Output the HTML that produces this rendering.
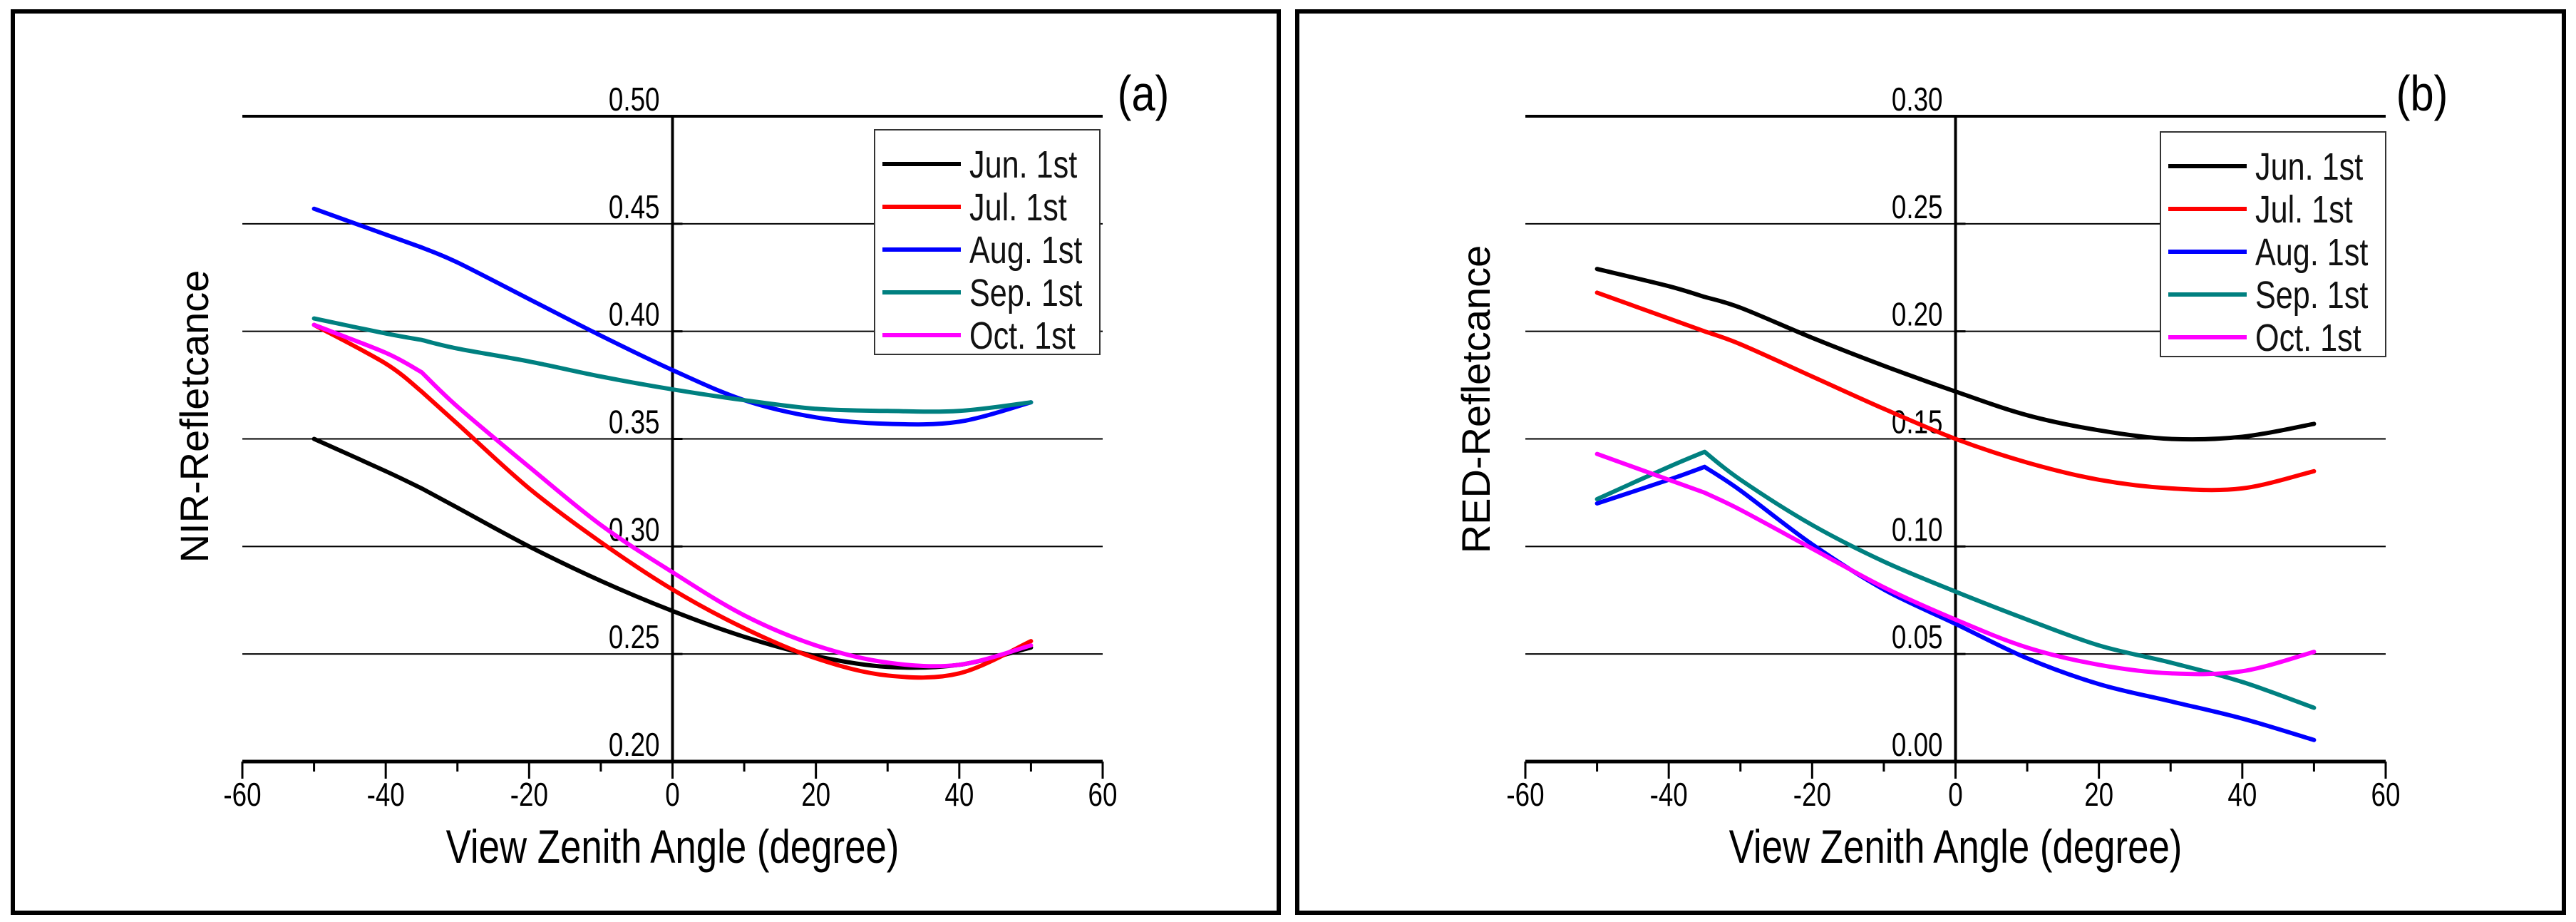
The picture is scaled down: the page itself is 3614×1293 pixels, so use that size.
<!DOCTYPE html>
<html><head><meta charset="utf-8"><style>
html,body{margin:0;padding:0;background:#fff}
svg{display:block}
text{font-family:"Liberation Sans",sans-serif}
</style></head><body>
<svg id="c" width="3614" height="1293" viewBox="0 0 3614 1293" xmlns="http://www.w3.org/2000/svg">
<rect x="18" y="16" width="1776" height="1264" fill="none" stroke="#000" stroke-width="6"/>
<rect x="1820" y="16" width="1777" height="1264" fill="none" stroke="#000" stroke-width="6"/>
</svg>
<script>
const xs = [-50,-40,-35,-30,-20,-10,0,10,20,30,40,50];
const seriesNames = ["Jun. 1st","Jul. 1st","Aug. 1st","Sep. 1st","Oct. 1st"];
const colors = ["#000000","#ff0000","#0000ff","#008080","#ff00ff"];
const nirJun = [0.350,0.335,0.327,0.318,0.300,0.284,0.270,0.258,0.249,0.244,0.245,0.253];
const nirJul = [0.403,0.385,0.372,0.357,0.327,0.302,0.280,0.262,0.248,0.240,0.241,0.256];
const nirAug = [0.457,0.445,0.439,0.432,0.415,0.398,0.382,0.368,0.360,0.357,0.358,0.367];
const nirSep = [0.406,0.399,0.396,0.392,0.386,0.379,0.373,0.368,0.364,0.363,0.363,0.367];
const nirOct = [0.403,0.390,0.381,0.365,0.337,0.310,0.288,0.268,0.254,0.246,0.245,0.254];
const redJun = [0.229,0.221,0.216,0.211,0.197,0.184,0.172,0.161,0.154,0.150,0.151,0.157];
const redJul = [0.218,0.206,0.200,0.194,0.179,0.164,0.150,0.139,0.131,0.127,0.127,0.135];
const redAug = [0.120,0.131,0.137,0.126,0.101,0.080,0.064,0.048,0.036,0.028,0.020,0.010];
const redSep = [0.122,0.137,0.144,0.131,0.110,0.093,0.079,0.066,0.054,0.046,0.037,0.025];
const redOct = [0.143,0.131,0.125,0.117,0.099,0.081,0.066,0.053,0.045,0.041,0.042,0.051];
const nirTicks = ["0.20","0.25","0.30","0.35","0.40","0.45","0.50"];
const redTicks = ["0.00","0.05","0.10","0.15","0.20","0.25","0.30"];
const xTicks = [-60,-40,-20,0,20,40,60];

const NS="http://www.w3.org/2000/svg";
const svg=document.getElementById('c');
function mk(tag,attrs,parent,txt){const e=document.createElementNS(NS,tag);for(const k in attrs)e.setAttribute(k,attrs[k]);if(txt!==undefined)e.textContent=txt;(parent||svg).appendChild(e);return e;}
function smoothSeg(P,start){
  let d=start?'M'+P[0][0].toFixed(1)+','+P[0][1].toFixed(1):'';
  for(let i=0;i<P.length-1;i++){
    const p0=P[Math.max(0,i-1)],p1=P[i],p2=P[i+1],p3=P[Math.min(P.length-1,i+2)];
    const t=0.5/3;
    const c1=[p1[0]+(p2[0]-p0[0])*t,p1[1]+(p2[1]-p0[1])*t];
    const c2=[p2[0]-(p3[0]-p1[0])*t,p2[1]-(p3[1]-p1[1])*t];
    d+=` C${c1[0].toFixed(1)},${c1[1].toFixed(1)} ${c2[0].toFixed(1)},${c2[1].toFixed(1)} ${p2[0].toFixed(1)},${p2[1].toFixed(1)}`;
  }
  return d;
}
function smooth(P){
  const k=xs.indexOf(-35);
  return smoothSeg(P.slice(0,k+1),true)+smoothSeg(P.slice(k),false);
}

function panel(opt){
  const g=mk('g',{});
  
  
  const x0=opt.x0,x1=opt.x1,yTop=163,yBot=1068;
  const ymin=parseFloat(opt.ticks[0]),ymax=parseFloat(opt.ticks[opt.ticks.length-1]);
  const sx=v=>x0+(v+60)/120*(x1-x0);
  const sy=v=>yBot-(v-ymin)/(ymax-ymin)*(yBot-yTop);
  opt.ticks.forEach((t,i)=>{
    const v=parseFloat(t),y=sy(v);
    const l=mk('line',{x1:x0,x2:x1,y1:y,y2:y,stroke:'#000','stroke-width':(i==0)?5:(i==opt.ticks.length-1?4:2)},g);
    
    
    const tk=mk('line',{x1:sx(0),x2:sx(0)+14,y1:y,y2:y,stroke:'#000','stroke-width':3},g);
    
    
    const tx=mk('text',{x:sx(0)-18,y:y-8,'text-anchor':'end','font-size':46,transform:`translate(${sx(0)-18},0) scale(0.8,1) translate(${-(sx(0)-18)},0)`},g,t);
    
    
  });
  const ya=mk('line',{x1:sx(0),x2:sx(0),y1:yTop,y2:yBot,stroke:'#000','stroke-width':4},g);
  
  
  for(let v=-60;v<=60;v+=10){
    const major=v%20===0;
    const t=mk('line',{x1:sx(v),x2:sx(v),y1:yBot,y2:yBot+(major?24:14),stroke:'#000','stroke-width':3},g);
    
    
  }
  xTicks.forEach(v=>{
    const cx=sx(v);
    const t=mk('text',{x:cx,y:1130,'text-anchor':'middle','font-size':46,transform:`translate(${cx},0) scale(0.8,1) translate(${-cx},0)`},g,String(v));
    
    
  });
  opt.series.forEach((d,i)=>{
    const P=xs.map((x,j)=>[sx(x),sy(d[j])]);
    const p=mk('path',{d:smooth(P),fill:'none',stroke:colors[i],'stroke-width':6,'stroke-linejoin':'round','stroke-linecap':'round'},g);
    
    
  });
  const lg=mk('g',{},g);
  
  
  mk('rect',{x:opt.lx,y:opt.ly,width:316,height:315,fill:'#fff',stroke:'#333','stroke-width':2},lg);
  seriesNames.forEach((n,i)=>{
    const y=opt.ly+48+i*60;
    const ln=mk('line',{x1:opt.lx+11,x2:opt.lx+121,y1:y,y2:y,stroke:colors[i],'stroke-width':6},lg);
    
    
    const tx=opt.lx+133;
    const t=mk('text',{x:tx,y:y+19,'font-size':54,fill:'#111',transform:`translate(${tx},0) scale(0.8,1) translate(${-tx},0)`},lg,n);
    
    
  });
  const lab=mk('text',{x:opt.labX,y:155,'font-size':70,'text-anchor':'middle',transform:`translate(${opt.labX},0) scale(0.85,1) translate(${-opt.labX},0)`},g,opt.label);
  
  
  const xt=mk('text',{x:sx(0),y:1210,'font-size':66,'text-anchor':'middle',transform:`translate(${sx(0)},0) scale(0.8,1) translate(${-sx(0)},0)`},g,'View Zenith Angle (degree)');
  
  
  const yt=mk('text',{x:0,y:0,'font-size':56,'text-anchor':'middle',transform:`translate(${opt.ytX},${opt.ytY}) rotate(-90)`},g,opt.ytitle);
  
  
}
panel({id:'nir',x0:340,x1:1547,ticks:nirTicks,series:[nirJun,nirJul,nirAug,nirSep,nirOct],lx:1227,ly:182,label:'(a)',labX:1604,ytitle:'NIR-Refletcance',ytX:292,ytY:584});
panel({id:'red',x0:2140,x1:3347,ticks:redTicks,series:[redJun,redJul,redAug,redSep,redOct],lx:3031,ly:185,label:'(b)',labX:3398,ytitle:'RED-Refletcance',ytX:2090,ytY:560});
</script>
</body></html>
